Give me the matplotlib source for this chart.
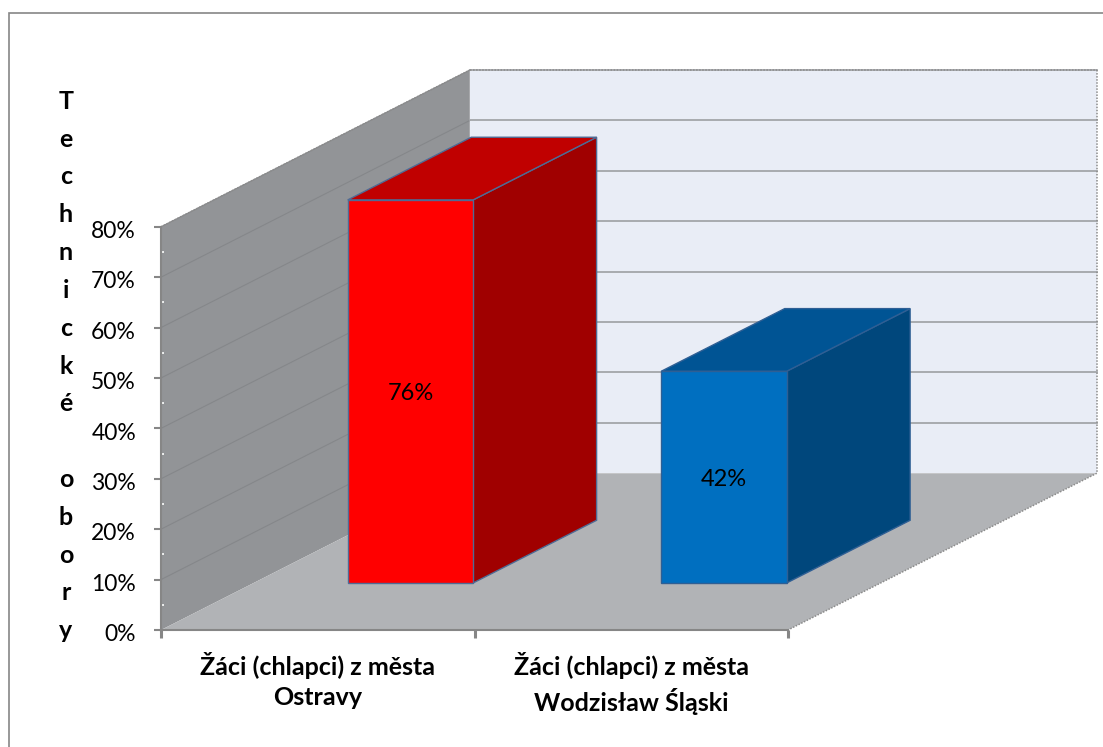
import matplotlib
matplotlib.use("Agg")
import matplotlib.pyplot as plt
from matplotlib.patches import Polygon, Rectangle
from matplotlib.transforms import ScaledTranslation

categories = ["Žáci (chlapci) z města\nOstravy", "Žáci (chlapci) z města\nWodzisław Śląski"]
values = [76, 42]
front_colors = ["#ff0000", "#006fc0"]
top_colors = ["#c00000", "#005494"]
side_colors = ["#a00000", "#00477c"]
edge_colors = ["#4f6b95", "#2f5f94"]
value_labels = ["76%", "42%"]
y_ticks = [0, 10, 20, 30, 40, 50, 60, 70, 80]
y_tick_labels = ["0%", "10%", "20%", "30%", "40%", "50%", "60%", "70%", "80%"]
ylabel_letters = ["T", "e", "c", "h", "n", "i", "c", "k", "é", " ", "o", "b", "o", "r", "y"]

# depth of the 3d box in axis units
dx = 0.985
dy = 31.1
bar_start = 0.3
bar_end = 0.7
d_front = 0.3
d_back = 0.7


def project(u, v, d):
    return (u + d * dx, v + d * dy)


def face(ax, pts, color, edge="none", lw=0, z=1):
    ax.add_patch(Polygon([project(*p) for p in pts], closed=True, facecolor=color,
                         edgecolor=edge, linewidth=lw, zorder=z, clip_on=False))


plt.rcParams["font.family"] = ["Lato", "DejaVu Sans"]

fig = plt.figure(figsize=(11.03, 7.47), dpi=100)
W, H = 1103, 747
ax = fig.add_axes([161 / W, (H - 630) / H, 942 / W, 630 / H])
ax.set_xlim(0, 942 / 313.5)
ax.set_ylim(0, 630 / 5.04)
ax.patch.set_alpha(0)

# outer frame of the chart
fig.add_artist(Rectangle((8.5 / W, -5 / H), 1200 / W, (H - 12.5 + 5) / H, transform=fig.transFigure,
                         facecolor="white", edgecolor="#868686", linewidth=1.2, zorder=-5))

n = len(categories)
top = y_ticks[-1]

# walls and floor
face(ax, [(0, 0, 0), (0, top, 0), (0, top, 1), (0, 0, 1)], "#929497")
face(ax, [(0, 0, 1), (0, top, 1), (n, top, 1), (n, 0, 1)], "#e9edf6")
face(ax, [(0, 0, 0), (n, 0, 0), (n, 0, 1), (0, 0, 1)], "#b1b3b6")

for v in y_ticks[1:]:
    a = project(0, v, 0)
    b = project(0, v, 1)
    c = project(n, v, 1)
    ax.plot([a[0], b[0]], [a[1], b[1]], color="#85878a", lw=0.8, zorder=2, clip_on=False)
    ax.plot([b[0], c[0]], [b[1], c[1]], color="#a3a5a9", lw=1.3, zorder=2, clip_on=False)

# dotted outline the 3d box gets on its far edges
for p, q in [((0, top, 1), (n, top, 1)), ((n, top, 1), (n, 0, 1)), ((n, 0, 1), (n, 0, 0))]:
    a, b = project(*p), project(*q)
    ax.plot([a[0], b[0]], [a[1], b[1]], color="#8c8c8c", lw=1.1, ls=(0, (1, 1)), zorder=2, clip_on=False)
a, b = project(0, top, 0), project(0, top, 1)
ax.plot([a[0], b[0]], [a[1], b[1]], color="#8c8c8c", lw=1.1, ls=(0, (1, 1)), zorder=2, clip_on=False)

# bars
for i, val in enumerate(values):
    x0 = i + bar_start
    x1 = i + bar_end
    face(ax, [(x1, 0, d_front), (x1, val, d_front), (x1, val, d_back), (x1, 0, d_back)],
         side_colors[i], edge_colors[i], 1, 3)
    face(ax, [(x0, val, d_front), (x1, val, d_front), (x1, val, d_back), (x0, val, d_back)],
         top_colors[i], edge_colors[i], 1, 3)
    face(ax, [(x0, 0, d_front), (x1, 0, d_front), (x1, val, d_front), (x0, val, d_front)],
         front_colors[i], edge_colors[i], 1, 4)
    cx, cy = project((x0 + x1) / 2, val / 2, d_front)
    ax.annotate(value_labels[i], (cx, cy), xytext=(0, -1.5), textcoords="offset points",
                ha="center", va="center", fontsize=17, color="black", zorder=5)

# axes
for s in ["top", "right"]:
    ax.spines[s].set_visible(False)
ax.spines["left"].set_bounds(0, top)
ax.spines["bottom"].set_bounds(0, n)
ax.spines["left"].set_color("#868686")
ax.spines["bottom"].set_color("#868686")
ax.spines["left"].set_linewidth(1.5)
ax.spines["bottom"].set_linewidth(1.5)
ax.spines["left"].set_zorder(6)
ax.spines["bottom"].set_zorder(6)

ax.set_yticks(y_ticks)
ax.set_yticklabels(y_tick_labels)
ax.set_yticks([v + 5 for v in y_ticks[:-1]], minor=True)
ax.tick_params(axis="y", which="major", length=5, width=1.5, color="#868686", labelsize=16.5, pad=13)
ax.tick_params(axis="y", which="minor", direction="in", length=2, width=1.2, color="white", zorder=7)
# labels sit a little under their ticks
for lab in ax.get_yticklabels():
    lab.set_transform(lab.get_transform() + ScaledTranslation(0, -2 / 72, fig.dpi_scale_trans))

ax.set_xticks(range(n + 1))
ax.set_xticklabels([])
ax.set_xticks([i + 0.5 for i in range(n)], minor=True)
ax.set_xticklabels(categories, minor=True, fontweight="bold", fontsize=18, linespacing=1.37)
ax.tick_params(axis="x", which="major", length=6, width=2.2, color="#868686")
ax.tick_params(axis="x", which="minor", length=0, pad=16)

ax.set_ylabel("\n".join(ylabel_letters), rotation=0, fontweight="bold", fontsize=18,
              va="center", ha="center", linespacing=1.78)
ax.yaxis.set_label_coords(-95 / 942, (630 - 366) / 630)

fig.savefig("out.png", dpi=100)
